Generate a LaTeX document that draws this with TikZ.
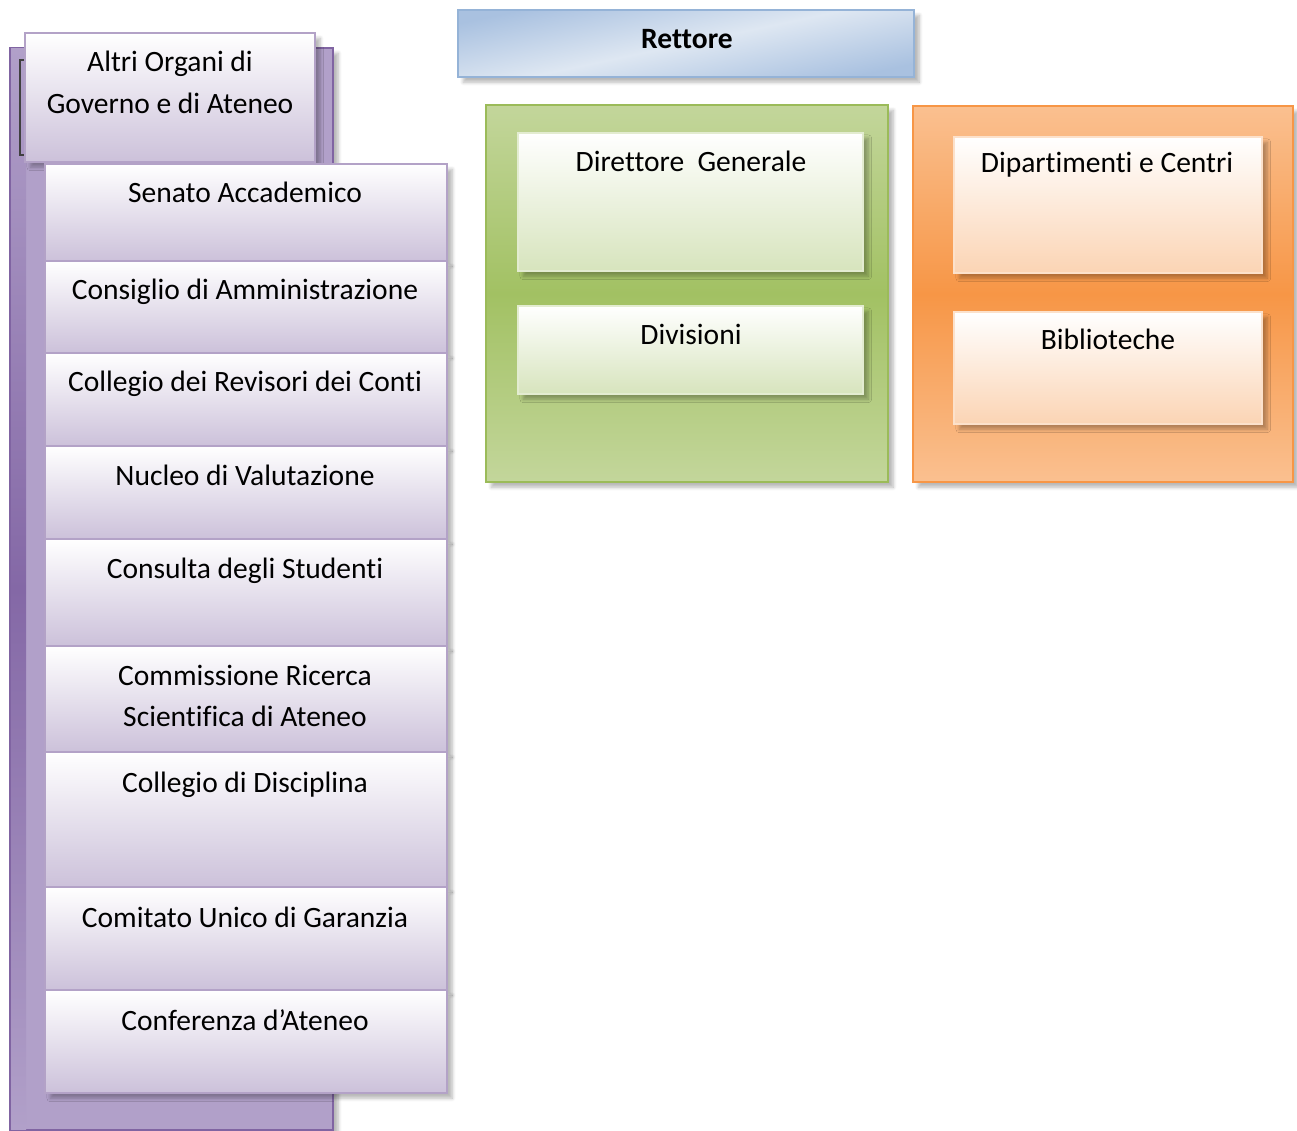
\documentclass[tikz,border=0pt]{standalone}
\usepackage{fontspec}
\setmainfont{Carlito}[Ligatures={NoCommon}]
\usetikzlibrary{fit,shadows.blur}

% colours of the three groups
\definecolor{lilac}{HTML}{8064A2}
\definecolor{lilacmid}{HTML}{B1A0C9}
\definecolor{lilacdark}{HTML}{8468A6}
\definecolor{lilacline}{HTML}{B3A2C7}
\definecolor{lilaclow}{HTML}{CCC1DA}
\definecolor{rblue}{HTML}{95B3D7}
\definecolor{rbluelow}{HTML}{A9C1E0}
\definecolor{rbluehigh}{HTML}{DEE7F2}
\definecolor{grn}{HTML}{9BBB59}
\definecolor{grnlight}{HTML}{C3D69B}
\definecolor{grnmid}{HTML}{A2C163}
\definecolor{grnlow}{HTML}{D7E4BD}
\definecolor{orng}{HTML}{F79646}
\definecolor{ornglight}{HTML}{FAC090}
\definecolor{ornglow}{HTML}{FBD4B4}

\begin{document}
\begin{tikzpicture}
  [x=0.02cm, y=-0.02cm,
   panel/.style={inner sep=0pt, line width=1.2pt,
     blur shadow={shadow xshift=3pt, shadow yshift=-3pt, shadow blur steps=6, shadow opacity=28}},
   itembox/.style={panel, draw=lilacline, top color=white, bottom color=lilaclow},
   grnbox/.style={panel, draw=grnlow!70!white, top color=white, bottom color=grnlow},
   orngbox/.style={panel, draw=ornglow!70!white, top color=white, bottom color=ornglow},
   txt/.style={anchor=base, inner sep=0pt, font=\fontsize{16.8}{23.8}\selectfont}]

  \useasboundingbox (0,0) rectangle (1297,1131);

  % left column: other bodies
  \node[panel, draw=lilac, fill=lilacmid, fit={(10,48) (333,1130)}] (organi) {};
  \shade[top color=lilacmid, bottom color=lilacmid, middle color=lilacdark] (11,49) rectangle (26,1129);
  \draw[line width=0.8pt, black!75] (25,60) -- (20,60) -- (20,155) -- (25,155);
  \node[itembox, fit={(25,33) (315,162)}] (altri) {};
  \node[txt] (altri-t) at (170,72)
    {\begin{tabular}[t]{@{}c@{}}Altri Organi di\\Governo e di Ateneo\end{tabular}};

  \foreach \nm/\ya/\yb/\bl/\lbl in {
      senato/164/261/203/{Senato Accademico},
      consiglio/261/353/300/{Consiglio di Amministrazione},
      revisori/353/446/392/{Collegio dei Revisori dei Conti},
      nucleo/446/539/485/{Nucleo di Valutazione},
      consulta/539/646/578/{Consulta degli Studenti},
      ricerca/646/752/685/{\begin{tabular}[t]{@{}c@{}}Commissione Ricerca\\Scientifica di Ateneo\end{tabular}},
      disciplina/752/887/792/{Collegio di Disciplina},
      garanzia/887/990/927/{Comitato Unico di Garanzia},
      conferenza/990/1093/1030/{Conferenza d’Ateneo}}
  {
    \node[itembox, fit={(45,\ya) (447,\yb)}] (\nm) {};
    \node[txt] (\nm-t) at (245,\bl) {\lbl};
  }

  % rector
  \node[panel, draw=rblue, top color=rbluelow, bottom color=rbluelow,
        middle color=rbluehigh, shading angle=12, fit={(458,10) (914,77)}] (rettore) {};
  \node[txt, font=\fontsize{16.8}{23.8}\selectfont\bfseries] (rettore-t) at (687,49) {Rettore};

  % administration
  \node[panel, draw=grn, top color=grnlight, bottom color=grnlight, middle color=grnmid,
        fit={(486,105) (888,482)}] (admin) {};
  \node[grnbox, fit={(518,133) (863,271)}] (direttore) {};
  \node[txt] (direttore-t) at (691,172) {Direttore~~Generale};
  \node[grnbox, fit={(518,306) (863,394)}] (divisioni) {};
  \node[txt] (divisioni-t) at (691,345) {Divisioni};

  % departments
  \node[panel, draw=orng, top color=ornglight, bottom color=ornglight, middle color=orng,
        fit={(913,106) (1293,482)}] (dip) {};
  \node[orngbox, fit={(954,137) (1262,273)}] (centri) {};
  \node[txt] (centri-t) at (1107,173) {Dipartimenti e Centri};
  \node[orngbox, fit={(954,312) (1262,424)}] (biblio) {};
  \node[txt] (biblio-t) at (1108,350) {Biblioteche};
\end{tikzpicture}
\end{document}
